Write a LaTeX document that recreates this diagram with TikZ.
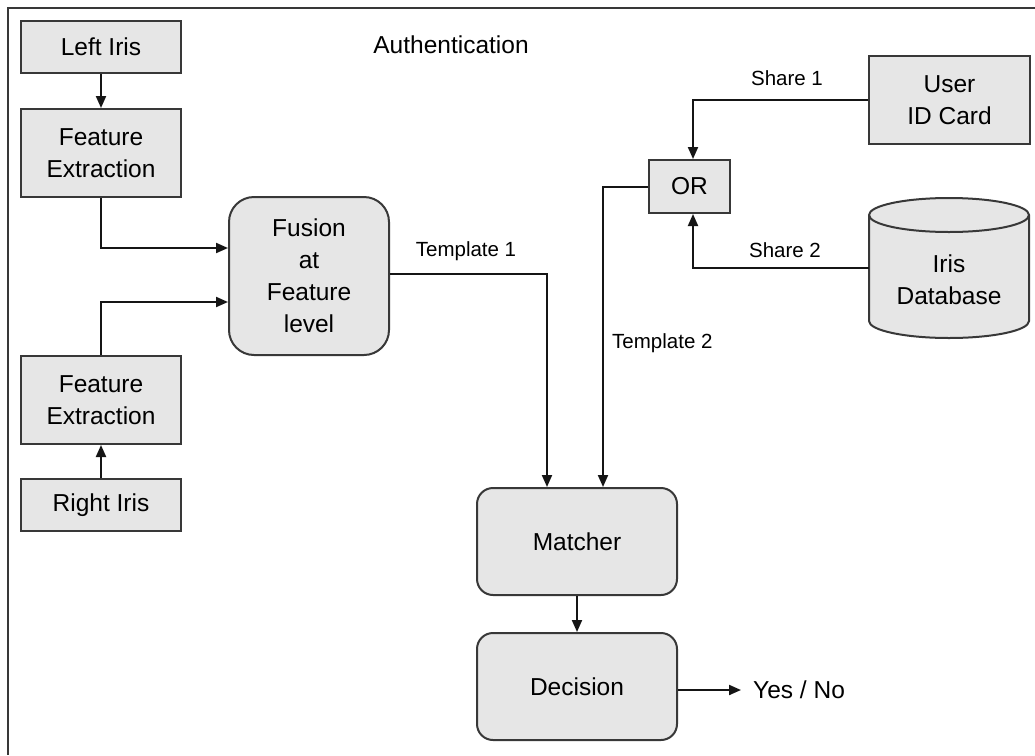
\documentclass[tikz,border=0pt]{standalone}
\usepackage{fontspec}
\setmainfont{Liberation Sans}
\usetikzlibrary{arrows.meta}

\definecolor{boxfill}{HTML}{E6E6E6}
\definecolor{boxline}{HTML}{383838}
\definecolor{wire}{HTML}{151515}

\tikzset{
  big/.style={font=\fontsize{24.5}{32}\selectfont},
  small/.style={font=\fontsize{20.5}{24}\selectfont},
  block/.style={draw=boxline, fill=boxfill, line width=2pt, inner sep=0pt,
                align=center, big},
  roundblock/.style={block, rounded corners=25pt},
  softblock/.style={block, rounded corners=16pt},
  conn/.style={draw=wire, line width=2pt, -{Triangle[length=12pt,width=10pt]}},
  lbl/.style={small, inner sep=0pt},
}

\begin{document}
\begin{tikzpicture}[x=1pt, y=-1pt]
\useasboundingbox (0,0) rectangle (1035,755);
\fill[white] (0,0) rectangle (1035,755);

% outer frame (cut at right and bottom)
\draw[boxline, line width=2pt] (1035,7.5) -- (7.5,7.5) -- (7.5,755);

\node[big] (title) at (451,45) {Authentication};

% left branch
\node[block, minimum width=160pt, minimum height=52pt] (left) at (101,47) {Left Iris};
\node[block, minimum width=160pt, minimum height=88pt] (fe1) at (101,153) {Feature\\Extraction};
\node[roundblock, minimum width=160pt, minimum height=158pt] (fusion) at (309,276) {Fusion\\at\\Feature\\level};
\node[block, minimum width=160pt, minimum height=88pt] (fe2) at (101,400) {Feature\\Extraction};
\node[block, minimum width=160pt, minimum height=52pt] (right) at (101,505) {Right Iris};

% right branch
\node[block, minimum width=161pt, minimum height=88pt] (user) at (949.5,100) {User\\ID Card};
\node[block, minimum width=81pt, minimum height=53pt] (or) at (689.5,186.5) {OR};

% iris database cylinder
\path[draw=boxline, fill=boxfill, line width=2pt]
  (869,215) -- (869,321)
  arc[start angle=180, end angle=360, x radius=80pt, y radius=17pt]
  -- (1029,215)
  arc[start angle=0, end angle=180, x radius=80pt, y radius=17pt] -- cycle;
\draw[boxline, line width=2pt]
  (869,215) arc[start angle=180, end angle=360, x radius=80pt, y radius=17pt];
\node[minimum width=160pt, minimum height=140pt, inner sep=0pt] (db) at (949,268) {};
\node[big, align=center] (dbtext) at (949,280) {Iris\\Database};

% matching stage
\node[softblock, minimum width=200pt, minimum height=107pt] (matcher) at (577,541.5) {Matcher};
\node[softblock, minimum width=200pt, minimum height=107pt] (decision) at (577,686.5) {Decision};
\node[big, anchor=west, inner sep=0pt] (yesno) at (753,690) {Yes / No};

% connectors
\draw[conn] (left.south) -- (fe1.north);
\draw[conn] (right.north) -- (fe2.south);
\draw[conn] (fe1.south) |- ([yshift=28pt]fusion.west);
\draw[conn] (fe2.north) |- ([yshift=-26pt]fusion.west);
\draw[conn] ([yshift=2pt]fusion.east) -| ([xshift=-30pt]matcher.north);
\draw[conn] (or.west) -| ([xshift=26pt]matcher.north);
\draw[conn] (user.west) -| ([xshift=3.5pt]or.north);
\draw[conn] (db.west) -| ([xshift=3.5pt]or.south);
\draw[conn] (matcher.south) -- (decision.north);
\draw[conn] ([yshift=-3.5pt]decision.east) -- ([xshift=-12pt]yesno.west);

% connector labels
\node[lbl] (t1) at (466,251) {Template 1};
\node[lbl, anchor=west] (t2) at (612,343) {Template 2};
\node[lbl] (s1) at (787,78) {Share 1};
\node[lbl] (s2) at (785,250) {Share 2};
\end{tikzpicture}
\end{document}
